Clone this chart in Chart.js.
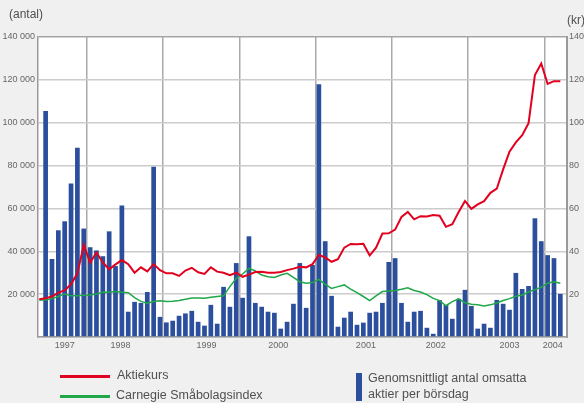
<!DOCTYPE html>
<html>
<head>
<meta charset="utf-8">
<script src="https://cdn.jsdelivr.net/npm/chart.js@4.4.1/dist/chart.umd.min.js"></script>
<style>
  html, body { margin: 0; padding: 0; background: #f0f0f0; }
  #wrap { position: relative; width: 584px; height: 403px; font-family: 'Liberation Sans', Arial, sans-serif; color: #505050; }
  #chart { position: absolute; left: 0; top: 0; }
  .txt { position: absolute; white-space: nowrap; }
  .swatch { position: absolute; }
</style>
</head>
<body>
<div id="wrap">
  <canvas id="chart" width="584" height="403"></canvas>
  <div class="txt" style="left:9px; top:7px; font-size:12px; line-height:14px;">(antal)</div>
  <div class="txt" style="left:567px; top:13px; font-size:12px; line-height:14px;">(kr)</div>

  <div class="swatch" style="left:60px; top:375px; width:50px; height:3px; background:#e2001f;"></div>
  <div class="txt" style="left:117px; top:367px; font-size:12.5px; line-height:16px;">Aktiekurs</div>
  <div class="swatch" style="left:60px; top:395px; width:50px; height:3px; background:#1fa748;"></div>
  <div class="txt" style="left:116px; top:387px; font-size:12.5px; line-height:16px;">Carnegie Småbolagsindex</div>
  <div class="swatch" style="left:356px; top:373px; width:5.5px; height:28px; background:#2b4f9d;"></div>
  <div class="txt" style="left:368px; top:371px; font-size:12.5px; line-height:15.7px;">Genomsnittligt antal omsatta<br>aktier per börsdag</div>
</div>

<script>
// Monthly data, bars from June 1997 to March 2004 (month index 0 = Jun 1997)
const turnover = [
  105500, 36400, 49800, 54000, 71600, 88300, 50600,                                  // 1997
  41900, 40400, 37700, 49300, 33100, 61400, 11800, 16400, 15900, 21000, 79500, 9400,  // 1998
  6800, 7600, 9900, 11000, 12200, 7100, 5300, 15000, 6200, 23400, 14100, 34500,       // 1999
  18300, 47000, 15900, 14100, 11800, 11300, 3900, 7100, 15500, 34500, 13600, 33600,   // 2000
  118000, 44700, 19200, 4800, 9000, 11800, 5700, 6700, 11300, 11800, 15900, 35000,    // 2001
  36800, 15900, 7100, 11800, 12200, 4300, 1500, 17200, 15000, 8500, 17800, 22000,     // 2002
  14500, 3900, 6200, 4300, 17300, 15500, 12700, 29900, 22400, 23800, 55400, 44700,    // 2003
  38200, 36800, 20100                                                                 // 2004
];

// Share price and index (kr), monthly from May 1997 to March 2004
const sharePrice = [
  17.6,
  18.1, 18.9, 20.7, 21.7, 24.6, 29.7, 43.0,
  34.7, 39.4, 34.8, 31.6, 33.9, 35.9, 34.0, 30.0, 32.5, 30.6, 34.0, 31.2,
  29.7, 29.7, 28.5, 31.0, 32.3, 30.2, 29.4, 32.5, 30.5, 30.0, 28.8, 30.0,
  28.1, 29.1, 30.3, 30.5, 30.0, 30.0, 30.3, 31.2, 31.9, 32.8, 32.5, 34.0,
  38.3, 37.1, 35.1, 36.3, 41.7, 43.4, 43.3, 43.5, 38.0, 41.7, 48.3, 48.4,
  50.1, 56.0, 58.4, 54.9, 56.4, 56.2, 56.9, 56.6, 51.4, 52.6, 58.3, 63.5,
  59.8, 61.9, 63.4, 67.3, 69.2, 78.2, 86.5, 90.8, 94.2, 99.8, 122.2, 127.6,
  118.1, 119.4, 119.4
];
const smallCapIndex = [
  17.3,
  17.3, 17.9, 18.9, 20.1, 19.2, 19.3, 19.5,
  19.6, 20.1, 20.9, 20.9, 21.2, 20.9, 20.7, 18.4, 16.6, 15.8, 16.6, 16.9,
  16.6, 16.7, 17.0, 17.6, 18.2, 18.2, 18.1, 18.6, 18.9, 19.2, 23.5, 27.4,
  29.4, 32.0, 30.8, 28.9, 28.1, 27.8, 28.9, 29.7, 27.8, 25.8, 25.1, 25.4,
  26.9, 24.6, 22.7, 23.5, 24.3, 22.3, 20.7, 18.9, 17.0, 19.2, 21.2, 21.5,
  21.7, 22.3, 23.0, 21.7, 21.0, 19.8, 18.0, 17.0, 14.6, 16.5, 17.8, 16.0,
  15.3, 15.0, 14.5, 15.0, 15.9, 17.0, 17.9, 19.0, 19.6, 21.0, 22.1, 23.2,
  25.1, 25.8, 25.1
];

// x axis: year labels and where they sit (month index), year boundaries
const yearLabels = ['1997', '1998', '1999', '2000', '2001', '2002', '2003', '2004'];
const yearLabelAt = [3.0, 11.8, 25.3, 36.6, 50.4, 61.4, 73.0, 79.8];
const yearStarts = [6.5, 18.5, 30.5, 42.5, 54.5, 66.5, 78.5];

const leftTicks = [0, 20000, 40000, 60000, 80000, 100000, 120000, 140000];
const rightTicks = [0, 20, 40, 60, 80, 100, 120, 140];

const RED = '#e2001f';
const GREEN = '#1fa748';
const BLUE = '#2b4f9d';
const tickFont = { family: "'Liberation Sans', Arial, sans-serif", size: 9 };

function spaced(v) {
    return String(v).replace(/\B(?=(\d{3})+(?!\d))/g, ' ');
}

// white plot area on the grey page
const plotBg = {
    id: 'plotBg',
    beforeDraw(chart) {
        const { ctx, chartArea: a } = chart;
        ctx.save();
        ctx.fillStyle = '#ffffff';
        ctx.fillRect(a.left, a.top, a.right - a.left, a.bottom - a.top);
        ctx.restore();
    }
};

const data = {
    datasets: [
        {
            type: 'line',
            label: 'Aktiekurs',
            data: sharePrice.map((v, i) => ({ x: i - 1, y: v })),
            yAxisID: 'y1',
            borderColor: RED,
            borderWidth: 2,
            pointRadius: 0,
            tension: 0,
            order: 1
        },
        {
            type: 'line',
            label: 'Carnegie Småbolagsindex',
            data: smallCapIndex.map((v, i) => ({ x: i - 1, y: v })),
            yAxisID: 'y1',
            borderColor: GREEN,
            borderWidth: 1.5,
            pointRadius: 0,
            tension: 0,
            order: 2
        },
        {
            type: 'bar',
            label: 'Genomsnittligt antal omsatta aktier per börsdag',
            data: turnover.map((v, i) => ({ x: i, y: v })),
            yAxisID: 'y',
            backgroundColor: BLUE,
            borderWidth: 0,
            barPercentage: 0.74,
            categoryPercentage: 1,
            order: 3
        }
    ]
};

const config = {
    type: 'bar',
    data: data,
    plugins: [plotBg],
    options: {
        responsive: false,
        animation: false,
        layout: { padding: { top: 37, bottom: 46, left: 0, right: 0 } },
        plugins: {
            legend: { display: false },
            tooltip: { enabled: false }
        },
        scales: {
            x: {
                type: 'linear',
                min: -1.2,
                max: 82.05,
                offset: false,
                afterBuildTicks: s => {
                    s.ticks = yearStarts.concat(yearLabelAt).sort((a, b) => a - b).map(v => ({ value: v }));
                },
                afterFit: s => { s.height = 20; },
                ticks: {
                    autoSkip: false,
                    maxRotation: 0,
                    padding: 3,
                    font: tickFont,
                    color: '#666',
                    callback: v => {
                        const k = yearLabelAt.indexOf(v);
                        return k < 0 ? '' : yearLabels[k];
                    }
                },
                grid: {
                    offset: false,
                    drawTicks: false,
                    lineWidth: 1.5,
                    color: ctx => yearStarts.includes(ctx.tick.value) ? '#aaaaaa' : 'rgba(0,0,0,0)'
                },
                border: { color: '#9a9a9a', width: 1.5 }
            },
            y: {
                position: 'left',
                min: 0,
                max: 140000,
                afterBuildTicks: s => { s.ticks = leftTicks.map(v => ({ value: v })); },
                afterFit: s => { s.width = 38; },
                ticks: {
                    padding: 3,
                    font: tickFont,
                    color: '#666',
                    callback: v => v === 0 ? '' : spaced(v)
                },
                grid: {
                    drawTicks: false,
                    lineWidth: 1.5,
                    color: ctx => ctx.tick.value === 140000 ? '#a5a5a5' : '#cccccc'
                },
                border: { color: '#9a9a9a', width: 1.5 }
            },
            y1: {
                position: 'right',
                min: 0,
                max: 140,
                afterBuildTicks: s => { s.ticks = rightTicks.map(v => ({ value: v })); },
                afterFit: s => { s.width = 17; },
                ticks: {
                    padding: 2,
                    font: tickFont,
                    color: '#666',
                    callback: v => v === 0 ? '' : v
                },
                grid: { drawOnChartArea: false, drawTicks: false },
                border: { color: '#9a9a9a', width: 2 }
            }
        }
    }
};

window.onload = function() {
    const ctx = document.getElementById('chart').getContext('2d');
    new Chart(ctx, config);
};
</script>
</body>
</html>
